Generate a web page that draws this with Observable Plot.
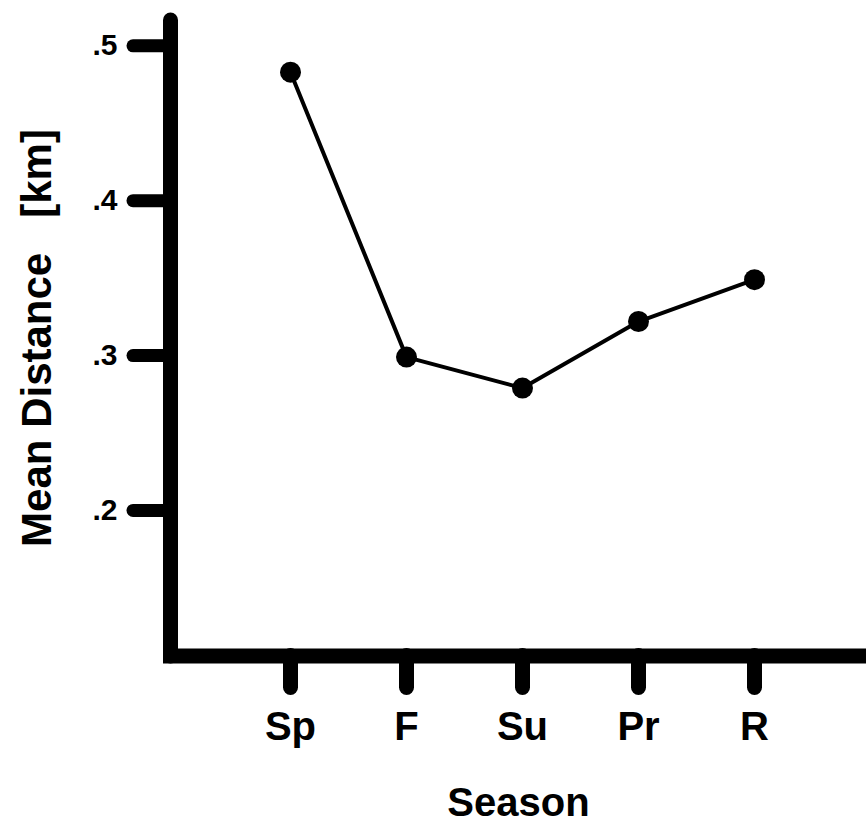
<!DOCTYPE html>
<html><head><meta charset="utf-8">
<script src="https://cdn.jsdelivr.net/npm/d3@7"></script>
<script src="https://cdn.jsdelivr.net/npm/@observablehq/plot@0.6"></script>
<style>html,body{margin:0;padding:0;background:#fff;overflow:hidden}</style>
</head><body><div id="chart"></div>
<script>
const seasons = ["Sp", "F", "Su", "Pr", "R"];
const meanDistance = [0.483, 0.299, 0.279, 0.322, 0.349];
const yTicks = [0.2, 0.3, 0.4, 0.5];
const xTitle = "Season";
const yTitle = "Mean Distance\u00a0\u00a0\u00a0[km]";

const data = seasons.map((s, i) => ({season: s, value: meanDistance[i]}));
const font = "'Liberation Sans', Arial, Helvetica, sans-serif";
const fmt = d => d.toFixed(1).replace(/^0/, "");

const chart = Plot.plot({
  width: 866,
  height: 824,
  marginTop: 19.5,
  marginBottom: 168.5,
  marginLeft: 170,
  marginRight: 0,
  style: {fontFamily: font, fontWeight: "bold", background: "#fff", color: "#000"},
  x: {type: "point", domain: seasons, range: [288, 755], padding: 0},
  y: {domain: [0.106, 0.5167]},
  marks: [
    Plot.axisY(yTicks, {
      tickSize: 37, strokeWidth: 13, strokeLinecap: "round",
      text: null, label: null
    }),
    Plot.text(yTicks, {
      y: d => d, text: fmt, frameAnchor: "left", dx: -53,
      textAnchor: "end", lineAnchor: "middle", fontSize: 30, fontWeight: "bold"
    }),
    Plot.axisX({
      tickSize: 32, tickPadding: 24, strokeWidth: 15, strokeLinecap: "round",
      fontSize: 40, fontWeight: "bold", label: null
    }),
    Plot.frame({anchor: "left", strokeWidth: 15, strokeLinecap: "round"}),
    Plot.frame({anchor: "bottom", strokeWidth: 15, strokeLinecap: "square"}),
    Plot.line(data, {x: "season", y: "value", strokeWidth: 4, stroke: "#000"}),
    Plot.dot(data, {x: "season", y: "value", r: 10.5, fill: "#000", stroke: null}),
    Plot.text([xTitle], {text: d => d, frameAnchor: "bottom", dy: 159.5, lineAnchor: "bottom", fontSize: 40, fontWeight: "bold"}),
    Plot.text([yTitle], {text: d => d, frameAnchor: "left", dx: -120, rotate: -90, textAnchor: "middle", lineAnchor: "bottom", fontSize: 42, fontWeight: "bold"})
  ]
});
document.getElementById("chart").appendChild(chart);
</script>
</body></html>
